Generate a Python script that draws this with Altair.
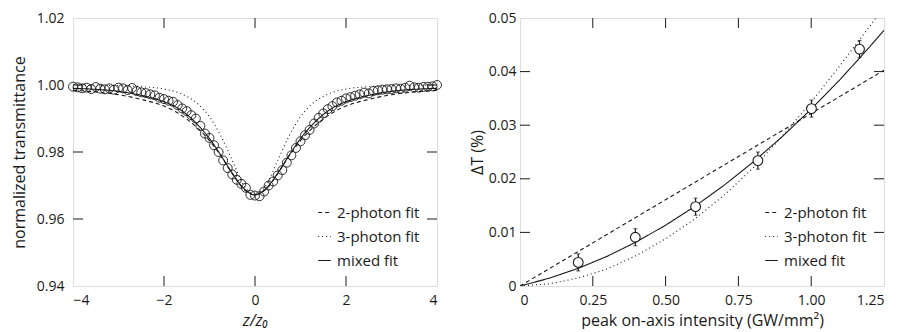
import altair as alt
import pandas as pd

FONT = "Open Sans"
INK = "#1a1a1a"

# ---------------- left panel: z-scan ----------------
z_pts = [-4.0, -3.9, -3.8, -3.7, -3.6, -3.5, -3.4, -3.3, -3.2, -3.1,
         -3.0, -2.9, -2.8, -2.7, -2.6, -2.5, -2.4, -2.3, -2.2, -2.1,
         -2.0, -1.9, -1.8, -1.7, -1.6, -1.5, -1.4, -1.3, -1.2, -1.1,
         -1.0, -0.9, -0.8, -0.7, -0.6, -0.5, -0.4, -0.3, -0.2, -0.1,
         0.0, 0.1, 0.2, 0.3, 0.4, 0.5, 0.6, 0.7, 0.8, 0.9,
         1.0, 1.1, 1.2, 1.3, 1.4, 1.5, 1.6, 1.7, 1.8, 1.9,
         2.0, 2.1, 2.2, 2.3, 2.4, 2.5, 2.6, 2.7, 2.8, 2.9,
         3.0, 3.1, 3.2, 3.3, 3.4, 3.5, 3.6, 3.7, 3.8, 3.9, 4.0]
t_pts = [0.9995, 0.9993, 0.9990, 0.9992, 0.9988, 0.9994, 0.9989, 0.9987, 0.9990, 0.9986,
         0.9992, 0.9990, 0.9985, 0.9991, 0.9982, 0.9978, 0.9976, 0.9972, 0.9969, 0.9962,
         0.9958, 0.9953, 0.9950, 0.9940, 0.9930, 0.9922, 0.9910, 0.9900, 0.9878, 0.9855,
         0.9842, 0.9820, 0.9800, 0.9775, 0.9752, 0.9733, 0.9717, 0.9705, 0.9693, 0.9672,
         0.9670, 0.9668, 0.9682, 0.9700, 0.9712, 0.9730, 0.9746, 0.9768, 0.9790, 0.9812,
         0.9832, 0.9850, 0.9866, 0.9885, 0.9902, 0.9915, 0.9928, 0.9937, 0.9948, 0.9953,
         0.9960, 0.9964, 0.9968, 0.9972, 0.9977, 0.9975, 0.9982, 0.9984, 0.9986, 0.9987,
         0.9988, 0.9990, 0.9989, 0.9992, 0.9998, 0.9993, 0.9992, 0.9994, 0.9995, 0.9996, 1.0000]

fit_z = [-4, -3.5, -3, -2.5, -2, -1.75, -1.5, -1.25, -1, -0.75, -0.5, -0.25, 0,
         0.25, 0.5, 0.75, 1, 1.25, 1.5, 1.75, 2, 2.5, 3, 3.5, 4]
two_left = [0.9984, 0.9979, 0.9971, 0.9957, 0.9937, 0.9921, 0.9898, 0.9870, 0.9834, 0.9788, 0.9735, 0.9690, 0.9672,
            0.9690, 0.9735, 0.9788, 0.9834, 0.9870, 0.9898, 0.9921, 0.9937, 0.9957, 0.9971, 0.9979, 0.9984]
three_left = [1.0000, 0.9999, 0.9998, 0.9995, 0.9988, 0.9980, 0.9966, 0.9943, 0.9905, 0.9848, 0.9775, 0.9702, 0.9672,
              0.9702, 0.9775, 0.9848, 0.9905, 0.9943, 0.9966, 0.9980, 0.9988, 0.9995, 0.9998, 0.9999, 1.0000]
mixed_left = [0.9990, 0.9987, 0.9981, 0.9969, 0.9950, 0.9935, 0.9912, 0.9880, 0.9840, 0.9790, 0.9737, 0.9692, 0.9672,
              0.9692, 0.9737, 0.9790, 0.9840, 0.9880, 0.9912, 0.9935, 0.9950, 0.9969, 0.9981, 0.9987, 0.9990]

left_x_ticks = [-4, -2, 0, 2, 4]
left_y_ticks = [0.94, 0.96, 0.98, 1.00, 1.02]

# ---------------- right panel: intensity dependence ----------------
i_pts = [0.200, 0.396, 0.603, 0.817, 1.001, 1.166]
dt_pts = [0.0044, 0.0091, 0.0148, 0.0234, 0.0331, 0.0442]
dt_err = [0.0016, 0.0016, 0.0016, 0.0016, 0.0016, 0.0016]

fit_i = [0, 0.1, 0.2, 0.3, 0.4, 0.5, 0.6, 0.7, 0.8, 0.9, 1.0, 1.1, 1.2, 1.25]
two_right = [0, 0.00322, 0.00644, 0.00966, 0.01288, 0.0161, 0.01932, 0.02254, 0.02576, 0.02898, 0.0322, 0.03542, 0.03864, 0.04025]
three_fit_i = [0, 0.1, 0.2, 0.3, 0.4, 0.5, 0.6, 0.7, 0.8, 0.9, 1.0, 1.1, 1.2, 1.225]
three_right = [0, 0.0004, 0.0015, 0.0032, 0.0057, 0.0088, 0.0125, 0.0169, 0.0220, 0.0279, 0.0343, 0.0412, 0.0484, 0.0502]
mixed_right = [0, 0.00144, 0.0033, 0.00556, 0.00824, 0.01134, 0.01484, 0.01876, 0.0231, 0.02784, 0.0330, 0.03857, 0.04456, 0.0477]

right_x_ticks = [0, 0.25, 0.5, 0.75, 1.0, 1.25]
right_y_ticks = [0, 0.01, 0.02, 0.03, 0.04, 0.05]

fit_names = ["2-photon fit", "3-photon fit", "mixed fit"]
dash_range = [[4, 3], [1, 3], [1, 0]]

W, H = 364, 268
TICK = 10

df_left_pts = pd.DataFrame({"z": z_pts, "T": t_pts})
df_left_fit = pd.concat([
    pd.DataFrame({"z": fit_z, "T": two_left, "fit": fit_names[0]}),
    pd.DataFrame({"z": fit_z, "T": three_left, "fit": fit_names[1]}),
    pd.DataFrame({"z": fit_z, "T": mixed_left, "fit": fit_names[2]}),
])
df_right_pts = pd.DataFrame({
    "I": i_pts, "dT": dt_pts,
    "lo": [v - e for v, e in zip(dt_pts, dt_err)],
    "hi": [v + e for v, e in zip(dt_pts, dt_err)],
})
df_right_fit = pd.concat([
    pd.DataFrame({"I": fit_i, "dT": two_right, "fit": fit_names[0]}),
    pd.DataFrame({"I": three_fit_i, "dT": three_right, "fit": fit_names[1]}),
    pd.DataFrame({"I": fit_i, "dT": mixed_right, "fit": fit_names[2]}),
])


def legend():
    return alt.Legend(title=None, orient="bottom-right", offset=17, padding=0,
                      labelFont=FONT, labelFontSize=15, labelColor=INK,
                      symbolType="stroke", symbolSize=160, symbolStrokeWidth=1.1,
                      symbolStrokeColor=INK, rowPadding=8, labelOffset=5)


def dash_enc():
    return alt.StrokeDash("fit:N", scale=alt.Scale(domain=fit_names, range=dash_range),
                          legend=legend())


def tick_layers(xfield, yfield, xscale, yscale, xaxis, yaxis, xt, yt):
    X = alt.X(f"{xfield}:Q", scale=xscale, axis=xaxis)
    Y = alt.Y(f"{yfield}:Q", scale=yscale, axis=yaxis)
    dfx = pd.DataFrame({xfield: xt[1:-1]})
    dfy = pd.DataFrame({yfield: yt[1:-1]})
    r = dict(color=INK, strokeWidth=1)
    return [
        alt.Chart(dfx).mark_rule(**r).encode(x=X, y=alt.value(H), y2=alt.value(H - TICK)),
        alt.Chart(dfx).mark_rule(**r).encode(x=X, y=alt.value(0), y2=alt.value(TICK)),
        alt.Chart(dfy).mark_rule(**r).encode(y=Y, x=alt.value(0), x2=alt.value(TICK)),
        alt.Chart(dfy).mark_rule(**r).encode(y=Y, x=alt.value(W), x2=alt.value(W - TICK)),
    ]


axis_common = dict(grid=False, ticks=False, domain=False, labelFont=FONT, labelFontSize=14,
                   labelColor=INK, titleFont=FONT, titleFontSize=16, titleFontWeight="normal",
                   titleColor=INK)

# left
xs_l = alt.Scale(domain=[-4, 4], nice=False, zero=False)
ys_l = alt.Scale(domain=[0.94, 1.02], nice=False, zero=False)
xa_l = alt.Axis(values=left_x_ticks, labelExpr="replace(format(datum.value, 'd'), '-', '\u2013')",
                title="z/z\u2080", titleFontStyle="italic", labelPadding=7, titlePadding=5, **axis_common)
ya_l = alt.Axis(values=left_y_ticks, format=".2f", title="normalized transmittance",
                labelPadding=9, titlePadding=9, **axis_common)

left_lines = alt.Chart(df_left_fit).mark_line(color=INK, strokeWidth=1.1, interpolate="monotone").encode(
    x=alt.X("z:Q", scale=xs_l, axis=xa_l), y=alt.Y("T:Q", scale=ys_l, axis=ya_l),
    strokeDash=dash_enc())
left_pts = alt.Chart(df_left_pts).mark_point(shape="circle", filled=False, color=INK, size=80,
                                             strokeWidth=0.9, opacity=1).encode(
    x=alt.X("z:Q", scale=xs_l, axis=xa_l), y=alt.Y("T:Q", scale=ys_l, axis=ya_l))

left = alt.layer(left_lines, left_pts,
                 *tick_layers("z", "T", xs_l, ys_l, xa_l, ya_l, left_x_ticks, left_y_ticks)
                 ).properties(width=W, height=H)

# right
xs_r = alt.Scale(domain=[0, 1.25], nice=False, zero=False)
ys_r = alt.Scale(domain=[0, 0.05], nice=False, zero=False)
lbl = "datum.value == 0 ? '0' : format(datum.value, '.2f')"
xa_r = alt.Axis(values=right_x_ticks, labelExpr=lbl, title="peak on-axis intensity (GW/mm\u00b2)",
                labelPadding=7, titlePadding=5, **axis_common)
ya_r = alt.Axis(values=right_y_ticks, labelExpr=lbl, title="\u0394T (%)",
                labelPadding=4, titlePadding=3, **axis_common)

right_lines = alt.Chart(df_right_fit).mark_line(color=INK, strokeWidth=1.1, clip=True).encode(
    x=alt.X("I:Q", scale=xs_r, axis=xa_r), y=alt.Y("dT:Q", scale=ys_r, axis=ya_r),
    strokeDash=dash_enc())
right_err = alt.Chart(df_right_pts).mark_rule(color=INK, strokeWidth=1.2).encode(
    x=alt.X("I:Q", scale=xs_r, axis=xa_r), y=alt.Y("lo:Q", scale=ys_r, axis=ya_r), y2="hi:Q")
right_cap_lo = alt.Chart(df_right_pts).mark_tick(color=INK, orient="horizontal", size=4, thickness=1).encode(
    x=alt.X("I:Q", scale=xs_r, axis=xa_r), y=alt.Y("lo:Q", scale=ys_r, axis=ya_r))
right_cap_hi = alt.Chart(df_right_pts).mark_tick(color=INK, orient="horizontal", size=4, thickness=1).encode(
    x=alt.X("I:Q", scale=xs_r, axis=xa_r), y=alt.Y("hi:Q", scale=ys_r, axis=ya_r))
right_pts = alt.Chart(df_right_pts).mark_point(shape="circle", filled=True, fill="white", stroke=INK,
                                              size=95, strokeWidth=1.1, opacity=1).encode(
    x=alt.X("I:Q", scale=xs_r, axis=xa_r), y=alt.Y("dT:Q", scale=ys_r, axis=ya_r))

right = alt.layer(right_lines, right_err, right_cap_lo, right_cap_hi, right_pts,
                  *tick_layers("I", "dT", xs_r, ys_r, xa_r, ya_r, right_x_ticks, right_y_ticks)
                  ).properties(width=W, height=H)

chart = alt.hconcat(left, right, spacing=24).resolve_scale(
    x="independent", y="independent", strokeDash="independent"
).resolve_legend(strokeDash="independent").properties(
    padding={"left": 2, "top": 2, "right": 0, "bottom": 0}
).configure_view(
    stroke=INK, strokeWidth=1
).configure(background="white")

chart.save("out.html", embed_options={"renderer": "svg", "actions": False})
